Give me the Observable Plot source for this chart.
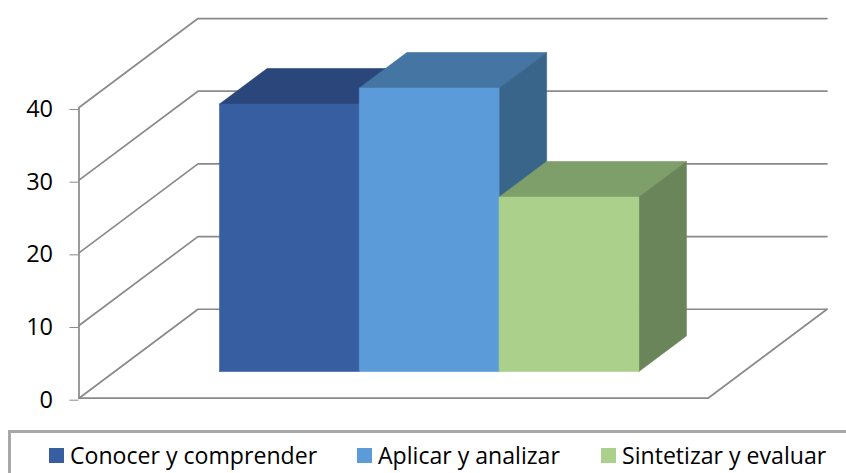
<!DOCTYPE html>
<html lang="es">
<head>
<meta charset="utf-8">
<script src="https://cdn.jsdelivr.net/npm/d3@7"></script>
<script src="https://cdn.jsdelivr.net/npm/@observablehq/plot@0.6"></script>
<style>
html,body{margin:0;padding:0;background:#fff;overflow:hidden;width:846px;height:473px}
#chart{position:relative;width:846px;height:473px;overflow:hidden}
#chart svg{display:block;position:absolute;left:0;top:0}
#legend{position:absolute;left:8px;top:430px;width:900px;height:80px;border:3px solid #a8a8a8;box-sizing:border-box;font-family:"Open Sans",sans-serif;color:#000}
.sw{position:absolute;top:15px;width:15px;height:15px}
.lb{position:absolute;top:7px;font-size:23.1px;line-height:30px;white-space:nowrap}
</style>
</head>
<body>
<div id="chart"></div>
<script>
const categories = ["Conocer y comprender", "Aplicar y analizar", "Sintetizar y evaluar"];
const values = [36.8, 39, 24];
const yTicks = [0, 10, 20, 30, 40];
const frontColors = ["#385EA2", "#5B9BD9", "#AAD08C"];
const topColors = ["#2B467B", "#4575A3", "#7F9F6A"];
const sideColors = ["#2A4678", "#39658A", "#6A8559"];

// oblique projection of the 3D box into the plane of the x and y scales
const gap = 0.75, depthX = 0.851, depthY = 12.24, d0 = 0.3, d1 = 0.7;
const floorW = categories.length + 2 * gap;
const P = (x, v, d) => ({px: x + d * depthX, py: v + d * depthY});

const grid = [];
yTicks.forEach(v => {
  [[0, 0], [0, 1], [floorW, 1]].forEach(([x, d]) => grid.push({...P(x, v, d), k: "g" + v}));
});
[[0, 0], [floorW, 0], [floorW, 1]].forEach(([x, d]) => grid.push({...P(x, 0, d), k: "floor"}));
const leftEdge = [P(0, 0, 0), P(0, yTicks[yTicks.length - 1], 0)];

const faces = [];
const face = (k, c, pts) => [...pts, pts[0]].forEach(p => faces.push({...p, k, c}));
values.forEach((v, i) => {
  const a = gap + i, b = a + 1;
  face("t" + i, topColors[i], [P(a, v, d0), P(b, v, d0), P(b, v, d1), P(a, v, d1)]);
  face("s" + i, sideColors[i], [P(b, 0, d0), P(b, 0, d1), P(b, v, d1), P(b, v, d0)]);
  face("f" + i, frontColors[i], [P(a, 0, d0), P(b, 0, d0), P(b, v, d0), P(a, v, d0)]);
});

const plot = Plot.plot({
  width: 846,
  height: 428,
  marginLeft: 78.5,
  marginRight: 138.5,
  marginTop: 0,
  marginBottom: 0,
  x: {domain: [0, floorW], range: [78.5, 707.5], axis: null},
  y: {domain: [0, 40], range: [397.7, 107], label: null},
  style: {background: "transparent", overflow: "visible"},
  marks: [
    Plot.line(grid, {x: "px", y: "py", z: "k", stroke: "#8a8a8a", strokeWidth: 1.7, curve: "linear"}),
    Plot.line(leftEdge, {x: "px", y: "py", stroke: "#8a8a8a", strokeWidth: 1.7, curve: "linear"}),
    Plot.axisY({
      ticks: yTicks, tickSize: 9, tickPadding: 17, label: null,
      stroke: "#8a8a8a", fill: "#000", fontSize: 23.5, dy: 2, fontFamily: "'Open Sans', sans-serif", tickFormat: d3.format("d")
    }),
    Plot.line(faces, {x: "px", y: "py", z: "k", fill: "c", stroke: "c", strokeWidth: 0.6, curve: "linear"})
  ]
});
const chart = document.getElementById("chart");
chart.appendChild(plot);

const legend = document.createElement("div");
legend.id = "legend";
const swatchX = [38, 346, 590];
categories.forEach((c, i) => {
  const s = document.createElement("div");
  s.className = "sw"; s.style.left = swatchX[i] + "px"; s.style.background = frontColors[i];
  const t = document.createElement("div");
  t.className = "lb"; t.style.left = (swatchX[i] + 21) + "px"; t.textContent = c;
  legend.append(s, t);
});
chart.appendChild(legend);
</script>
</body>
</html>
